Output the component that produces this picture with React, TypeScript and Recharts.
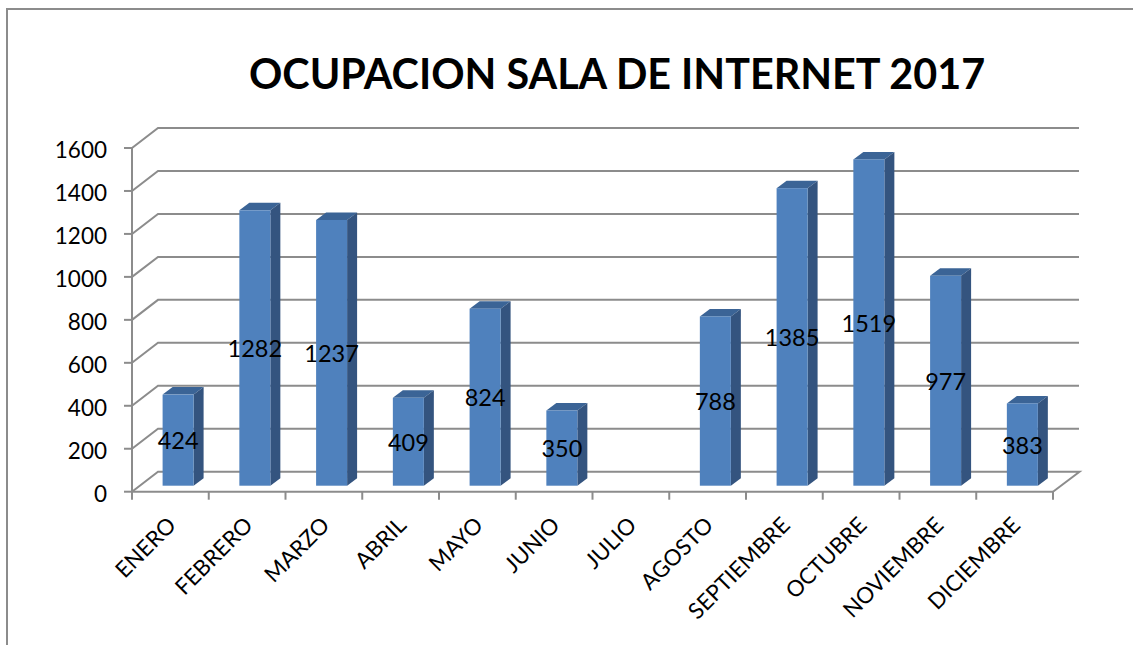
import React from "react";
import { BarChart, Bar, XAxis, YAxis, CartesianGrid, LabelList } from "recharts";

const months = ["ENERO", "FEBRERO", "MARZO", "ABRIL", "MAYO", "JUNIO", "JULIO", "AGOSTO", "SEPTIEMBRE", "OCTUBRE", "NOVIEMBRE", "DICIEMBRE"];
const values: (number | null)[] = [424, 1282, 1237, 409, 824, 350, null, 788, 1385, 1519, 977, 383];
const yTicks = [0, 200, 400, 600, 800, 1000, 1200, 1400, 1600];
const data = months.map((month, i) => ({ month, value: values[i] }));

const FONT = "Lato, Carlito, sans-serif";
const GRID = "#8c8c8c";
const FRONT = "#4f81bd";
const SIDE = "#34547f";
const TOP = "#3b6496";

const W = 1133, H = 645;
const PLOT_L = 132, PLOT_R = 1053, PLOT_T = 148, PLOT_B = 491.7;
const BAND = (PLOT_R - PLOT_L) / months.length;
const WALL_DX = 26, WALL_DY = 20;
const BAR_DX = 7.6, BAR_DY = 6;
const DEPTH_X = 10, DEPTH_Y = 7.5;

const GridLine = (p: any) => {
  const { x1, x2, y1 } = p;
  const bx = x1 + WALL_DX, by = y1 - WALL_DY;
  const isFloor = Math.abs(y1 - PLOT_B) < 1;
  const pts = isFloor
    ? `${x1},${y1} ${bx},${by} ${x2 + WALL_DX + 0.5},${by} ${x2},${y1}`
    : `${x1},${y1} ${bx},${by} ${x2 + WALL_DX},${by}`;
  return <polyline key={`g${y1}`} points={pts} fill="none" stroke={GRID} strokeWidth={2} />;
};

const Bar3D = (p: any) => {
  if (p.value == null || p.height == null || !p.height) return <g />;
  const x = p.x + BAR_DX, y = p.y - BAR_DY, w = p.width, h = p.height;
  return (
    <g>
      <polygon points={`${x},${y} ${x + DEPTH_X},${y - DEPTH_Y} ${x + w + DEPTH_X},${y - DEPTH_Y} ${x + w},${y}`} fill={TOP} />
      <polygon points={`${x + w},${y} ${x + w + DEPTH_X},${y - DEPTH_Y} ${x + w + DEPTH_X},${y + h - DEPTH_Y} ${x + w},${y + h}`} fill={SIDE} />
      <rect x={x} y={y} width={w} height={h} fill={FRONT} />
    </g>
  );
};

const BarLabel = (p: any) => {
  if (p.value == null) return <g />;
  return (
    <text x={p.x + p.width / 2 + BAR_DX} y={p.y + p.height / 2 - BAR_DY + 3} textAnchor="middle" dominantBaseline="middle" fontFamily={FONT} fontSize={23.5} fill="#000">
      {p.value}
    </text>
  );
};

const MonthTick = (p: any) => {
  const { x, y, index, payload } = p;
  const left = x - BAND / 2;
  const tx = x + 7, ty = y + 27;
  return (
    <g>
      <line x1={left} y1={PLOT_B} x2={left} y2={PLOT_B + 8} stroke={GRID} strokeWidth={2} />
      {index === months.length - 1 && <line x1={left + BAND} y1={PLOT_B} x2={left + BAND} y2={PLOT_B + 8} stroke={GRID} strokeWidth={2} />}
      <text x={tx} y={ty} transform={`rotate(-45 ${tx} ${ty})`} textAnchor="end" fontFamily={FONT} fontSize={22.3} fill="#000">
        {payload.value}
      </text>
    </g>
  );
};

export default function App() {
  return (
    <div style={{ position: "fixed", left: 0, top: 0, width: W, height: H, overflow: "hidden", background: "#fff" }}>
      <div style={{ position: "absolute", left: 6, top: 8, right: 0, bottom: 0, borderLeft: `2px solid ${GRID}`, borderTop: `2px solid ${GRID}` }} />
      <div style={{ position: "absolute", left: 249, width: 736, top: 45, textAlign: "center", whiteSpace: "nowrap", fontFamily: FONT, fontWeight: 700, fontSize: 41.3, lineHeight: "56px", color: "#000" }}>
        OCUPACION SALA DE INTERNET 2017
      </div>
      <div style={{ position: "absolute", left: 0, top: 0 }}>
        <BarChart
          width={W}
          height={H}
          data={data}
          barSize={31}
          margin={{ top: PLOT_T, right: W - PLOT_R, bottom: H - PLOT_B - 60, left: 0 }}
          style={{ background: "transparent" }}
        >
          <CartesianGrid horizontal={GridLine as any} vertical={false} />
          <XAxis
            dataKey="month"
            height={60}
            interval={0}
            tick={MonthTick as any}
            tickLine={false}
            axisLine={{ stroke: GRID, strokeWidth: 2 }}
          />
          <YAxis
            width={PLOT_L}
            domain={[0, 1600]}
            ticks={yTicks}
            interval={0}
            tickSize={8}
            tickMargin={17}
            tickLine={{ stroke: GRID, strokeWidth: 2 }}
            axisLine={{ stroke: GRID, strokeWidth: 2 }}
            tick={{ fontFamily: FONT, fontSize: 22.5, fill: "#000", dy: 2 }}
          />
          <Bar dataKey="value" isAnimationActive={false} shape={Bar3D as any}>
            <LabelList dataKey="value" content={BarLabel as any} />
          </Bar>
        </BarChart>
      </div>
    </div>
  );
}
